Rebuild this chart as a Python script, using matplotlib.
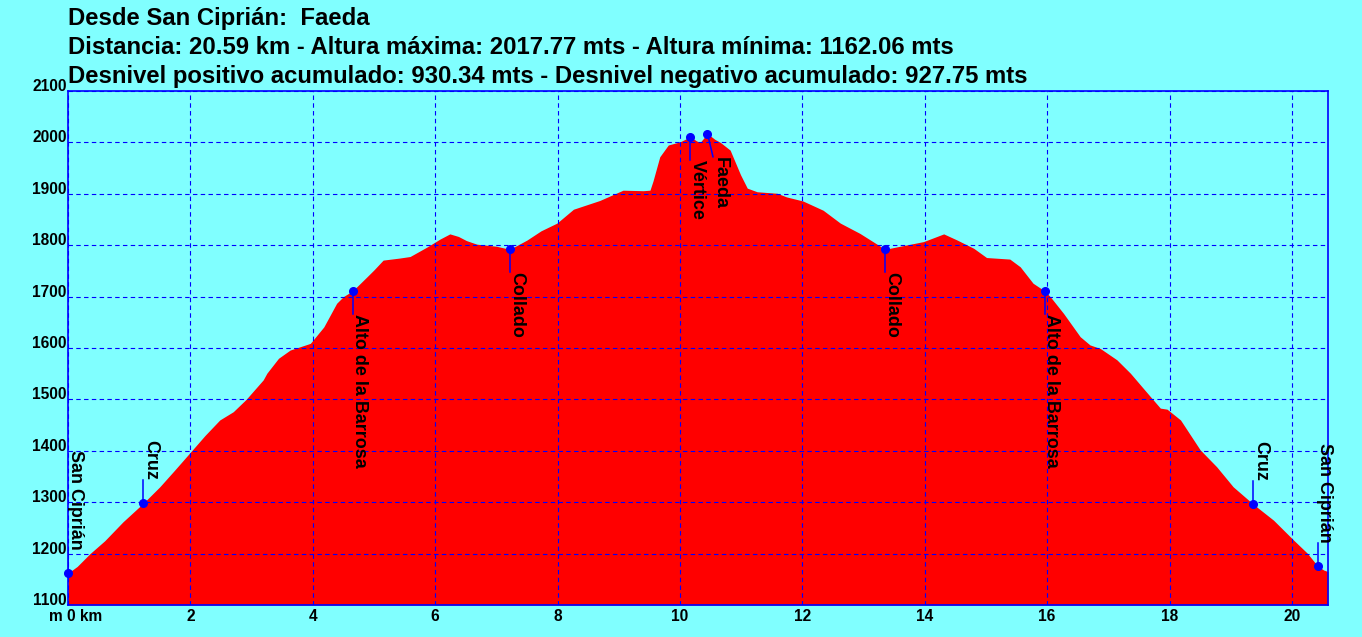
import matplotlib.pyplot as plt

# Track profile (km, m)
dist_km = [0.00, 0.15, 0.36, 0.60, 0.90, 1.23, 1.50, 1.74, 2.02, 2.24, 2.48, 2.70,
           2.91, 3.19, 3.25, 3.44, 3.63, 3.96, 4.18, 4.39, 4.50, 4.65, 4.89, 5.00,
           5.15, 5.42, 5.59, 5.86, 6.08, 6.24, 6.38, 6.51, 6.68, 7.00, 7.22, 7.50,
           7.73, 7.99, 8.26, 8.69, 9.07, 9.40, 9.51, 9.56, 9.67, 9.81, 10.00, 10.17,
           10.27, 10.33, 10.45, 10.57, 10.66, 10.82, 10.99, 11.10, 11.26, 11.59, 11.74,
           12.01, 12.34, 12.62, 12.94, 13.22, 13.35, 13.60, 13.98, 14.31, 14.53, 14.80,
           15.01, 15.39, 15.56, 15.77, 15.96, 16.05, 16.27, 16.54, 16.70, 16.87, 17.14,
           17.36, 17.64, 17.85, 17.96, 18.18, 18.50, 18.77, 19.04, 19.37, 19.70, 20.03,
           20.25, 20.42, 20.52, 20.59]
elev_m = [1162, 1175, 1200, 1225, 1262, 1298, 1330, 1362, 1400, 1430, 1460, 1476,
          1500, 1538, 1551, 1580, 1596, 1609, 1641, 1687, 1700, 1711, 1739, 1752,
          1771, 1775, 1778, 1796, 1812, 1822, 1817, 1809, 1802, 1798, 1792, 1810,
          1828, 1843, 1870, 1887, 1907, 1906, 1907, 1925, 1972, 1995, 2001, 2011,
          2003, 2000, 2017, 2006, 2000, 1985, 1937, 1911, 1904, 1901, 1894,
          1886, 1868, 1843, 1823, 1802, 1792, 1798, 1807, 1822, 1810, 1794,
          1776, 1773, 1758, 1726, 1711, 1700, 1667, 1622, 1606, 1599, 1577,
          1551, 1512, 1483, 1481, 1460, 1402, 1369, 1330, 1296, 1265, 1226,
          1201, 1176, 1168, 1165]

# Waypoints
wp_names = ["San Ciprián", "Cruz", "Alto de la Barrosa", "Collado", "Vértice",
            "Faeda", "Collado", "Alto de la Barrosa", "Cruz", "San Ciprián"]
wp_dist = [0.0, 1.23, 4.65, 7.22, 10.17, 10.45, 13.35, 15.96, 19.37, 20.42]
wp_elev = [1162, 1298, 1711, 1792, 2011, 2017, 1792, 1711, 1296, 1176]
wp_above = [True, True, False, False, False, False, False, False, True, True]

x_ticks = [0, 2, 4, 6, 8, 10, 12, 14, 16, 18, 20]
y_ticks = [1100, 1200, 1300, 1400, 1500, 1600, 1700, 1800, 1900, 2000, 2100]

title_lines = [
    "Desde San Ciprián:  Faeda",
    "Distancia: 20.59 km - Altura máxima: 2017.77 mts - Altura mínima: 1162.06 mts",
    "Desnivel positivo acumulado: 930.34 mts - Desnivel negativo acumulado: 927.75 mts",
]

plt.rcParams['font.family'] = ['Liberation Sans', 'DejaVu Sans']
plt.rcParams['font.weight'] = 'bold'

bg = '#80FFFF'
blue = '#0000FF'

fig = plt.figure(figsize=(13.62, 6.37), dpi=100, facecolor=bg)
ax = fig.add_axes([68 / 1362, 32 / 637, 1260 / 1362, 514 / 637])
ax.set_facecolor(bg)

# Profile
ax.fill_between(dist_km, elev_m, 1100, color='#FF0000', linewidth=0, zorder=1)

ax.set_xlim(0, 20.59)
ax.set_ylim(1100, 2100)

# Grid over the profile
ax.set_axisbelow(False)
ax.grid(True, color=blue, linestyle=(0, (4, 3)), linewidth=0.8)
for s in ax.spines.values():
    s.set_color(blue)
    s.set_linewidth(1.2)

ax.set_xticks(x_ticks)
ax.set_xticklabels([''] + [str(t) for t in x_ticks[1:]])
ax.set_yticks(y_ticks)
ax.set_yticklabels([str(t) for t in y_ticks])
ax.tick_params(axis='both', length=0, labelsize=11.2, colors='black')
ax.tick_params(axis='x', pad=3)
ax.tick_params(axis='y', pad=1)
for lab in ax.get_yticklabels():
    lab.set_verticalalignment('baseline')
    lab.set_fontweight('bold')
for lab in ax.get_xticklabels():
    lab.set_fontweight('bold')
ax.annotate("m 0 km", xy=(0, 1100), xytext=(-13.7, -11.3), textcoords='offset points',
            ha='left', va='baseline', fontsize=11.2, fontweight='bold')

# Waypoints with leader lines and vertical labels
for i, name in enumerate(wp_names):
    x, y = wp_dist[i], wp_elev[i]
    lx = x
    if name == "Faeda":
        lx = x + 0.09
    if wp_above[i]:
        ly = y + 45
        va = 'bottom'
    else:
        ly = y - 45
        va = 'top'
    ax.plot([x, lx], [y, ly], color=blue, linewidth=1.1, zorder=3)
    ax.plot(x, y, 'o', color=blue, markersize=5.5, zorder=4, clip_on=False)
    ax.text(lx - 0.02, ly, name, rotation=-90, ha='left', va=va, fontsize=12.9,
            fontweight='bold', color='black', zorder=5)

# Title block
for i, line in enumerate(title_lines):
    fig.text(68 / 1362, 1 - (25 + 29 * i) / 637, line, ha='left', va='baseline',
             fontsize=17.2, fontweight='bold', color='black')

plt.savefig("out.png", dpi=100, facecolor=bg)
plt.close()
